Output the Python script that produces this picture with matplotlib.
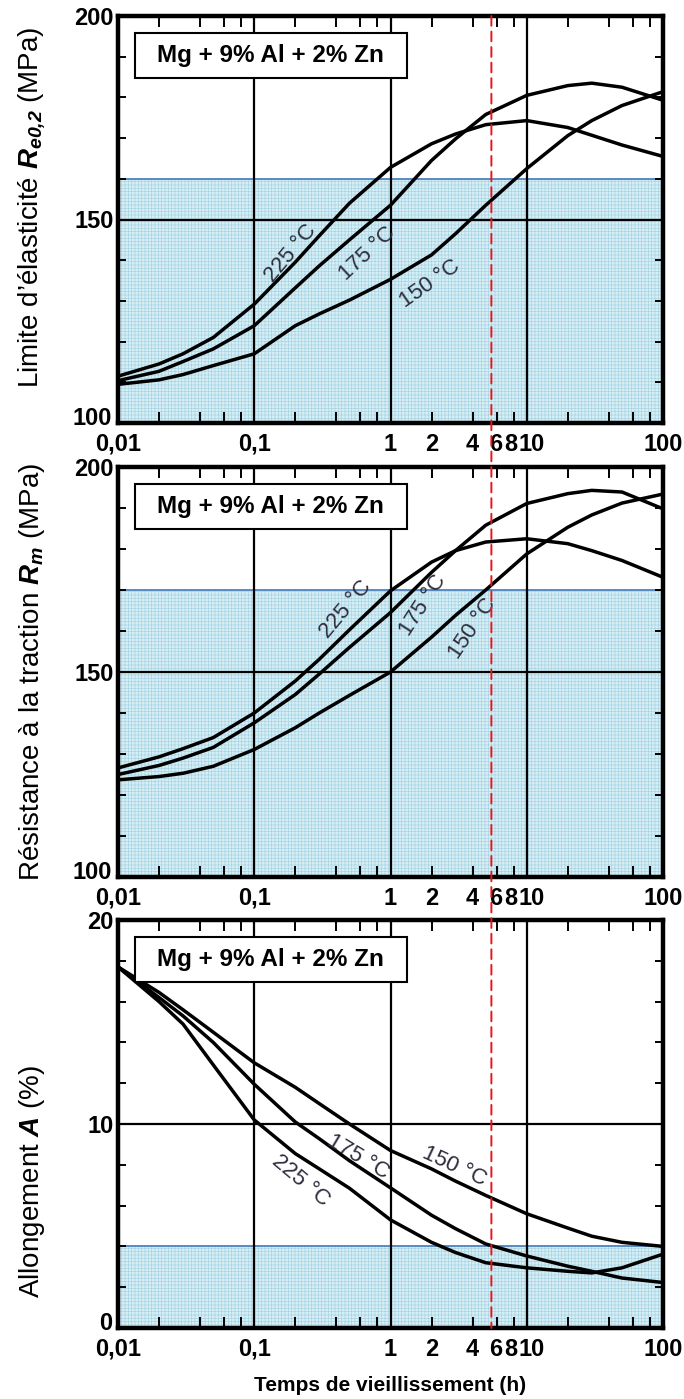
import matplotlib.pyplot as plt
from matplotlib.patches import Rectangle, ConnectionPatch
from matplotlib.transforms import offset_copy

plt.rcParams['font.family'] = ['Liberation Sans', 'DejaVu Sans']
plt.rcParams['mathtext.fontset'] = 'custom'
plt.rcParams['mathtext.rm'] = 'Liberation Sans'
plt.rcParams['mathtext.bf'] = 'Liberation Sans:italic:bold'
plt.rcParams['hatch.linewidth'] = 0.5

# ageing time (h), log axis
temps_h = [0.01, 0.02, 0.03, 0.05, 0.1, 0.2, 0.3, 0.5, 1, 2, 3, 5, 10, 20, 30, 50, 100]

# yield strength Re0,2 (MPa)
re_225 = [111.5, 114.5, 117.0, 121.0, 129.2, 139.5, 146.0, 154.0, 162.8, 168.6, 171.0, 173.3, 174.3, 172.6, 170.7, 168.3, 165.5]
re_175 = [110.4, 112.7, 115.1, 118.2, 123.9, 133.2, 138.6, 145.0, 153.5, 164.5, 169.8, 175.8, 180.5, 182.9, 183.5, 182.5, 179.3]
re_150 = [109.5, 110.6, 111.9, 114.1, 117.0, 123.9, 126.8, 130.2, 135.3, 141.3, 146.5, 153.5, 162.5, 170.6, 174.3, 178.0, 181.4]

# tensile strength Rm (MPa)
rm_225 = [126.6, 129.3, 131.3, 134.0, 140.0, 147.8, 153.1, 160.3, 169.8, 176.8, 179.6, 181.7, 182.5, 181.3, 179.6, 177.2, 173.1]
rm_175 = [125.0, 127.2, 129.0, 131.6, 137.6, 144.5, 149.5, 156.0, 164.5, 174.3, 179.6, 185.8, 191.1, 193.5, 194.3, 193.9, 189.8]
rm_150 = [123.7, 124.5, 125.3, 127.0, 131.1, 136.4, 140.0, 144.3, 150.0, 158.5, 163.8, 170.0, 178.8, 185.3, 188.3, 191.2, 193.4]

# elongation A (%)
a_225 = [17.7, 16.0, 14.9, 12.9, 10.2, 8.55, 7.8, 6.85, 5.3, 4.2, 3.7, 3.2, 2.95, 2.78, 2.7, 2.95, 3.62]
a_175 = [17.7, 16.2, 15.3, 14.0, 11.95, 10.1, 9.28, 8.2, 6.87, 5.53, 4.87, 4.12, 3.53, 3.03, 2.78, 2.45, 2.23]
a_150 = [17.7, 16.45, 15.6, 14.5, 13.0, 11.8, 11.0, 10.0, 8.7, 7.8, 7.2, 6.5, 5.6, 4.9, 4.5, 4.2, 4.0]

alloy = "Mg + 9% Al + 2% Zn"
t_marker = 5.5  # red dashed line (h)

major_x = [0.01, 0.1, 1, 10, 100]
major_x_labels = ["0,01", "0,1", "1", "", "100"]
minor_x = [m * d for d in (0.01, 0.1, 1, 10) for m in (2, 4, 6, 8)]
minor_x_labels = [str(int(v)) if v in (2, 4) else "" for v in minor_x]
# crowded labels near 10 are nudged sideways (x value, label, shift in px)
crowded = [(6, "6", -1), (8, "8", -3), (10, "10", 5)]

panels = [
    dict(series=[re_225, re_175, re_150], ylim=(100, 200), yticks=[150, 200], ystep=10, shade=160,
         ylabel=r"Limite d’élasticité $\mathbf{R_{e0{,}2}}$ (MPa)", ylab_y=0.53,
         labels=[(0.185, 141.8, 50), (0.68, 141.6, 43), (1.95, 134.3, 35)]),
    dict(series=[rm_225, rm_175, rm_150], ylim=(100, 200), yticks=[150, 200], ystep=10, shade=170,
         ylabel=r"Résistance à la traction $\mathbf{R_m}$ (MPa)", ylab_y=0.5,
         labels=[(0.47, 165.4, 50), (1.72, 166.3, 57), (3.97, 160.5, 56)]),
    dict(series=[a_225, a_175, a_150], ylim=(0, 20), yticks=[10, 20], ystep=2, shade=4,
         ylabel=r"Allongement $\mathbf{A}$ (%)", ylab_y=0.36,
         labels=[(0.22, 7.2, -40), (0.575, 8.4, -31), (2.95, 7.9, -25)]),
]
curve_names = ["225 °C", "175 °C", "150 °C"]

fig = plt.figure(figsize=(6.84, 13.99), dpi=100)
W, H = 684, 1399
boxes = [(16, 423), (467, 877), (920, 1328)]
tick_fs = 17
axes = []
for (top, bot), p in zip(boxes, panels):
    ax = fig.add_axes([118 / W, 1 - bot / H, 545 / W, (bot - top) / H])
    axes.append(ax)
    ax.set_xscale('log')
    ax.set_xlim(0.01, 100)
    ax.set_ylim(*p['ylim'])
    lo, hi = p['ylim']

    # shaded zone
    ax.add_patch(Rectangle((0, lo), 1, p['shade'] - lo,
                           transform=ax.get_yaxis_transform(), facecolor='#d7eef5',
                           edgecolor='#a8d5e4', hatch='+++++', lw=0, zorder=1))
    ax.add_patch(Rectangle((0.002, lo), 0.996, p['shade'] - lo,
                           transform=ax.get_yaxis_transform(), fill=False,
                           edgecolor='#4f81bd', lw=1.3, zorder=1.2))

    for s in p['series']:
        ax.plot(temps_h, s, color='black', lw=2.5, zorder=3)

    for name, (tx, ty, rot) in zip(curve_names, p['labels']):
        ax.text(tx, ty, name, rotation=rot, ha='center', va='center', fontsize=16,
                color='#2d2d3d', rotation_mode='anchor', zorder=4)

    ax.set_xticks(major_x, major_x_labels)
    ax.set_xticks(minor_x, minor_x_labels, minor=True)
    ax.set_yticks(p['yticks'], [str(v) for v in p['yticks']])
    ax.set_yticks(range(lo, hi + 1, p['ystep']), minor=True)
    ax.grid(True, which='major', color='black', lw=1.6)
    ax.xaxis.set_tick_params(which='both', direction='in', top=True, length=8, width=1.4, pad=7)
    ax.xaxis.set_tick_params(which='major', length=0)
    ax.yaxis.set_tick_params(which='both', direction='in', right=True, length=6, width=1.4, pad=3)
    for lab in ax.get_xticklabels(which='both') + ax.get_yticklabels():
        lab.set_fontweight('bold')
        lab.set_fontsize(tick_fs)
    for xv, txt, dx in crowded:
        tr = offset_copy(ax.get_xaxis_transform(), fig=fig, x=dx * 0.72, y=-7, units='points')
        ax.text(xv, 0, txt, transform=tr, ha='center', va='top', fontsize=tick_fs,
                fontweight='bold', clip_on=False)
    # bottom y label sits a little above the axis corner
    tr = offset_copy(ax.get_yaxis_transform(), fig=fig, x=-4.5, y=3, units='points')
    ax.text(0, lo, str(lo), transform=tr, ha='right', va='center', fontsize=tick_fs,
            fontweight='bold', clip_on=False)
    for sp in ax.spines.values():
        sp.set_linewidth(3.2)
        sp.set_zorder(6)

    ax.set_ylabel(p['ylabel'], fontsize=20)
    ax.yaxis.set_label_coords(-0.13, p['ylab_y'])

    ax.add_patch(Rectangle((0.031, 0.848), 0.499, 0.11, transform=ax.transAxes,
                           facecolor='white', edgecolor='black', lw=1.5, zorder=5))
    ax.text(0.28, 0.903, alloy, transform=ax.transAxes, ha='center', va='center',
            fontsize=17.5, fontweight='bold', zorder=6)

axes[-1].set_xlabel("Temps de vieillissement (h)", fontsize=15, fontweight='bold', labelpad=11)

con = ConnectionPatch(xyA=(t_marker, panels[0]['ylim'][1]), coordsA=axes[0].transData,
                      xyB=(t_marker, panels[2]['ylim'][0]), coordsB=axes[2].transData,
                      color='#e8161b', lw=1.4, linestyle=(0, (5, 3)), zorder=10)
fig.add_artist(con)

fig.savefig('out.png', dpi=100)
